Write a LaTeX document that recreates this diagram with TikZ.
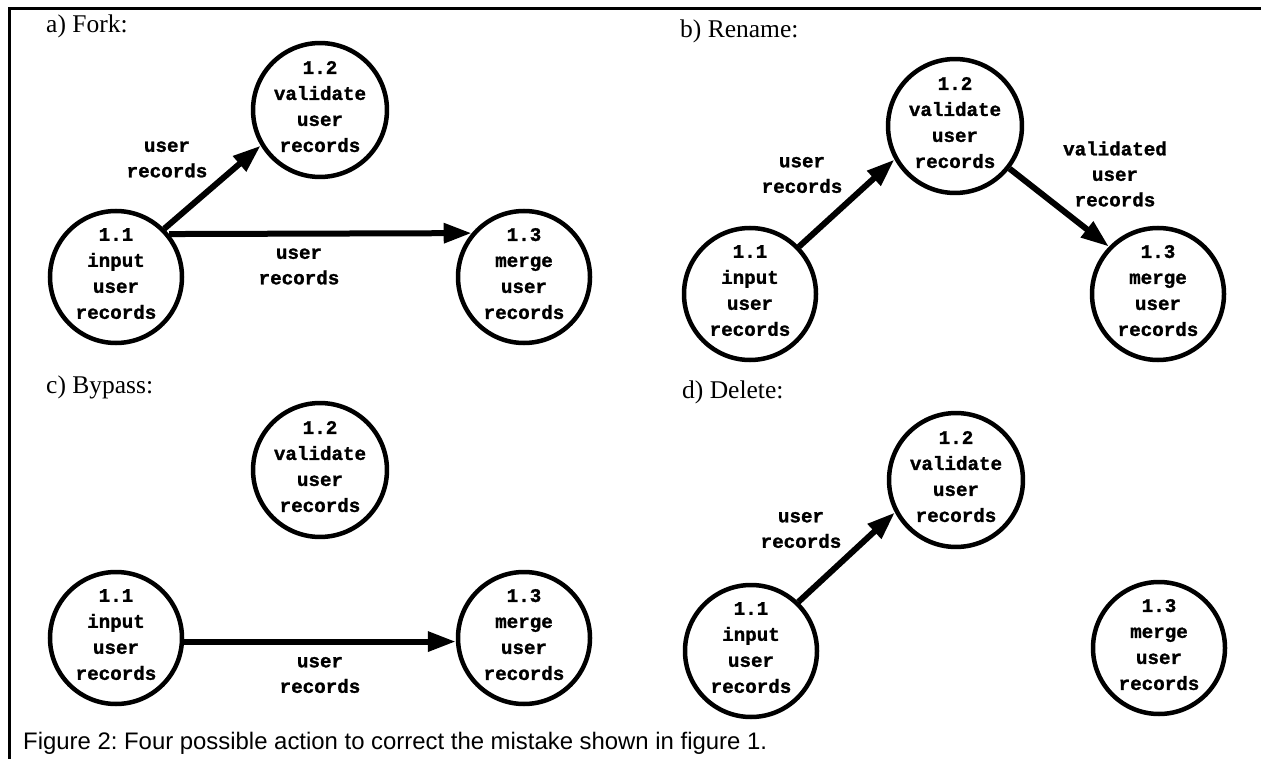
\documentclass[tikz,border=0pt]{standalone}
\usepackage{fontspec}
\setmainfont{Liberation Serif}
\setsansfont{Liberation Sans}
\setmonofont{Liberation Mono}[BoldFeatures={FakeBold=1.3}]
\usetikzlibrary{arrows.meta}
\frenchspacing
\newcommand{\proctext}[4]{#1\\#2\\#3\\#4\rule[-7pt]{0pt}{7pt}}
\tikzset{
  proc/.style={circle, draw, line width=4.5pt, minimum size=132pt, inner sep=0pt,
    align=center, font=\ttfamily\bfseries\fontsize{19.2pt}{26pt}\selectfont},
  flow/.style={line width=6pt, -{Triangle[length=28pt,width=19pt]}},
  flowlabel/.style={align=center, inner sep=0pt,
    font=\ttfamily\bfseries\fontsize{19.2pt}{25.5pt}\selectfont},
  paneltitle/.style={anchor=base west, inner sep=0pt,
    font=\rmfamily\fontsize{25.5pt}{30pt}\selectfont},
  captiontext/.style={anchor=base west, inner sep=0pt,
    font=\sffamily\fontsize{23.9pt}{28pt}\selectfont},
}
\begin{document}
\begin{tikzpicture}[x=1pt,y=-1pt]
\useasboundingbox (0,0) rectangle (1261,759);
% frame
\coordinate (fbl) at (9,759);
\coordinate (ftl) at (9,8.5);
\coordinate (ftr) at (1261,8.5);
\draw[line width=3pt, line join=miter] (fbl) -- (ftl) -- (ftr);

% a) Fork
\node[paneltitle] (ta) at (46,33) {a) Fork:};
\node[proc] (a11) at (116,277) {\proctext{1.1}{input}{user}{records}};
\node[proc] (a12) at (320,110) {\proctext{1.2}{validate}{user}{records}};
\node[proc] (a13) at (524,277) {\proctext{1.3}{merge}{user}{records}};
\draw[flow] (a11.45) -- (a12.211);
\draw[flow] (a11.39.5) -- (a13.140.5);
\node[flowlabel] (la1) at (167,159.5) {user\\records};
\node[flowlabel] (la2) at (299,266.5) {user\\records};

% b) Rename
\node[paneltitle] (tb) at (680,38) {b) Rename:};
\node[proc] (b11) at (750,294) {\proctext{1.1}{input}{user}{records}};
\node[proc] (b12) at (955,126) {\proctext{1.2}{validate}{user}{records}};
\node[proc] (b13) at (1158,294) {\proctext{1.3}{merge}{user}{records}};
\draw[flow] (b11.44) -- (b12.209);
\draw[flow] (b12.-38) -- (b13.136);
\node[flowlabel] (lb1) at (802,175) {user\\records};
\node[flowlabel] (lb2) at (1115,174) {validated\\user\\records};

% c) Bypass
\node[paneltitle] (tc) at (46,393) {c) Bypass:};
\node[proc] (c11) at (116,638) {\proctext{1.1}{input}{user}{records}};
\node[proc] (c12) at (320,470) {\proctext{1.2}{validate}{user}{records}};
\node[proc] (c13) at (524,638) {\proctext{1.3}{merge}{user}{records}};
\draw[flow] (c11.-3.4) -- (c13.183.4);
\node[flowlabel] (lc1) at (320,675) {user\\records};

% d) Delete
\node[paneltitle] (td) at (682,398) {d) Delete:};
\node[proc] (d11) at (751,651) {\proctext{1.1}{input}{user}{records}};
\node[proc] (d12) at (956,480) {\proctext{1.2}{validate}{user}{records}};
\node[proc] (d13) at (1159,648) {\proctext{1.3}{merge}{user}{records}};
\draw[flow] (d11.46) -- (d12.208);
\node[flowlabel] (ld1) at (801,530) {user\\records};

% caption
\node[captiontext] (cap) at (23,749) {Figure 2: Four possible action to correct the mistake shown in figure 1.};
\end{tikzpicture}
\end{document}
